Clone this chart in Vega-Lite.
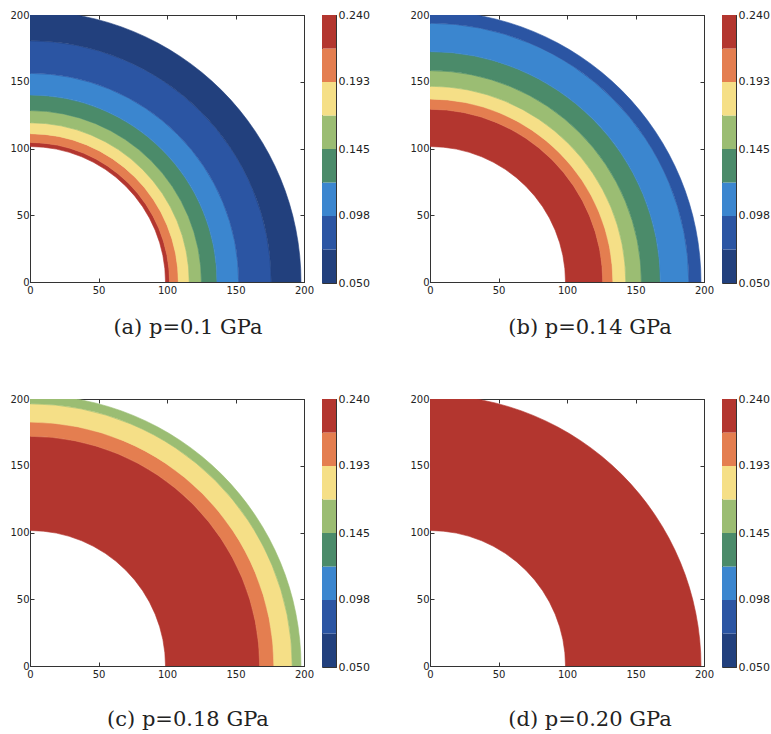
{
  "$schema": "https://vega.github.io/schema/vega-lite/v6.json",
  "background": "white",
  "padding": {"left": 9, "top": 8, "right": 0, "bottom": 0},
  "spacing": 53,
  "config": {
    "view": {"stroke": "#333333", "strokeWidth": 1},
    "axis": {
      "grid": false,
      "labelFont": "DejaVu Sans",
      "labelFontSize": 10,
      "labelColor": "#222222",
      "domainColor": "#333333",
      "tickColor": "#333333",
      "labelFlush": false,
      "labelOverlap": false,
      "title": null
    },
    "title": {"font": "DejaVu Serif", "fontSize": 21, "fontWeight": "normal", "color": "#222222"}
  },
  "datasets": {
    "bands": [
      {"panel": "a", "lo": 100, "hi": 103, "level": 7},
      {"panel": "a", "lo": 103, "hi": 109.5, "level": 6},
      {"panel": "a", "lo": 109.5, "hi": 117.5, "level": 5},
      {"panel": "a", "lo": 117.5, "hi": 126.5, "level": 4},
      {"panel": "a", "lo": 126.5, "hi": 138, "level": 3},
      {"panel": "a", "lo": 138, "hi": 154, "level": 2},
      {"panel": "a", "lo": 154, "hi": 178, "level": 1},
      {"panel": "a", "lo": 178, "hi": 200, "level": 0},
      {"panel": "b", "lo": 100, "hi": 127.5, "level": 7},
      {"panel": "b", "lo": 127.5, "hi": 135, "level": 6},
      {"panel": "b", "lo": 135, "hi": 144.5, "level": 5},
      {"panel": "b", "lo": 144.5, "hi": 156, "level": 4},
      {"panel": "b", "lo": 156, "hi": 170, "level": 3},
      {"panel": "b", "lo": 170, "hi": 191, "level": 2},
      {"panel": "b", "lo": 191, "hi": 200, "level": 1},
      {"panel": "c", "lo": 100, "hi": 169.5, "level": 7},
      {"panel": "c", "lo": 169.5, "hi": 180, "level": 6},
      {"panel": "c", "lo": 180, "hi": 193.5, "level": 5},
      {"panel": "c", "lo": 193.5, "hi": 200, "level": 4},
      {"panel": "d", "lo": 100, "hi": 200, "level": 7}
    ],
    "cbar": [
      {"level": 0, "lo": 0.05, "hi": 0.07375},
      {"level": 1, "lo": 0.07375, "hi": 0.0975},
      {"level": 2, "lo": 0.0975, "hi": 0.12125},
      {"level": 3, "lo": 0.12125, "hi": 0.145},
      {"level": 4, "lo": 0.145, "hi": 0.16875},
      {"level": 5, "lo": 0.16875, "hi": 0.1925},
      {"level": 6, "lo": 0.1925, "hi": 0.21625},
      {"level": 7, "lo": 0.21625, "hi": 0.24}
    ]
  },
  "vconcat": [
    {
      "spacing": 39,
      "hconcat": [
        {
          "spacing": 6,
          "hconcat": [
            {
              "width": 274, "height": 267,
              "title": {"text": "(a) p=0.1 GPa", "orient": "bottom", "anchor": "middle", "offset": 22, "dx": 21},
              "data": {"name": "bands"},
              "transform": [{"filter": "datum.panel == 'a'"}],
              "layer": [
                {
                  "mark": {"type": "arc", "theta": 0, "theta2": 1.5707963, "clip": true, "strokeWidth": 0.6},
                  "encoding": {
                    "x": {"datum": 0, "type": "quantitative", "scale": {"domain": [0, 200], "nice": false}, "axis": {"orient": "bottom", "values": [0, 50, 100, 150, 200], "tickSize": -4, "labelPadding": 7}},
                    "y": {"datum": 0, "type": "quantitative", "scale": {"domain": [0, 200], "nice": false}, "axis": {"orient": "left", "values": [0, 50, 100, 150, 200], "tickSize": -4, "labelPadding": 5}},
                    "radius": {"field": "lo", "type": "quantitative", "scale": {"type": "linear", "domain": [0, 200], "range": [0, 271], "zero": true, "nice": false}},
                    "radius2": {"field": "hi"},
                    "fill": {"field": "level", "type": "ordinal", "scale": {"domain": [0, 1, 2, 3, 4, 5, 6, 7], "range": ["#22407d", "#2b55a3", "#3b86cf", "#4b8b6a", "#9bbd73", "#f5df87", "#e47e50", "#b3362f"]}, "legend": null},
                    "stroke": {"field": "level", "type": "ordinal", "scale": {"domain": [0, 1, 2, 3, 4, 5, 6, 7], "range": ["#22407d", "#2b55a3", "#3b86cf", "#4b8b6a", "#9bbd73", "#f5df87", "#e47e50", "#b3362f"]}, "legend": null}
                  }
                },
                {
                  "mark": {"type": "point", "opacity": 0},
                  "encoding": {
                    "x": {"datum": 0, "type": "quantitative", "axis": {"orient": "top", "values": [0, 50, 100, 150, 200], "tickSize": -4, "labels": false}},
                    "y": {"datum": 0, "type": "quantitative", "axis": {"orient": "right", "values": [0, 50, 100, 150, 200], "tickSize": -4, "labels": false}}
                  }
                }
              ],
              "resolve": {"axis": {"x": "independent", "y": "independent"}}
            },
            {
              "width": 14, "height": 268,
              "data": {"name": "cbar"},
              "mark": {"type": "rect"},
              "encoding": {
                "y": {"field": "lo", "type": "quantitative", "scale": {"domain": [0.05, 0.24], "nice": false, "zero": false}, "axis": {"orient": "right", "values": [0.05, 0.098, 0.145, 0.193, 0.24], "format": ".3f", "tickSize": -3, "labelPadding": 5, "labelFontSize": 11}},
                "y2": {"field": "hi"},
                "fill": {"field": "level", "type": "ordinal", "scale": {"domain": [0, 1, 2, 3, 4, 5, 6, 7], "range": ["#22407d", "#2b55a3", "#3b86cf", "#4b8b6a", "#9bbd73", "#f5df87", "#e47e50", "#b3362f"]}, "legend": null}
              }
            }
          ]
        },
        {
          "spacing": 6,
          "hconcat": [
            {
              "width": 274, "height": 267,
              "title": {"text": "(b) p=0.14 GPa", "orient": "bottom", "anchor": "middle", "offset": 22, "dx": 23},
              "data": {"name": "bands"},
              "transform": [{"filter": "datum.panel == 'b'"}],
              "layer": [
                {
                  "mark": {"type": "arc", "theta": 0, "theta2": 1.5707963, "clip": true, "strokeWidth": 0.6},
                  "encoding": {
                    "x": {"datum": 0, "type": "quantitative", "scale": {"domain": [0, 200], "nice": false}, "axis": {"orient": "bottom", "values": [0, 50, 100, 150, 200], "tickSize": -4, "labelPadding": 7}},
                    "y": {"datum": 0, "type": "quantitative", "scale": {"domain": [0, 200], "nice": false}, "axis": {"orient": "left", "values": [0, 50, 100, 150, 200], "tickSize": -4, "labelPadding": 5}},
                    "radius": {"field": "lo", "type": "quantitative", "scale": {"type": "linear", "domain": [0, 200], "range": [0, 271], "zero": true, "nice": false}},
                    "radius2": {"field": "hi"},
                    "fill": {"field": "level", "type": "ordinal", "scale": {"domain": [0, 1, 2, 3, 4, 5, 6, 7], "range": ["#22407d", "#2b55a3", "#3b86cf", "#4b8b6a", "#9bbd73", "#f5df87", "#e47e50", "#b3362f"]}, "legend": null},
                    "stroke": {"field": "level", "type": "ordinal", "scale": {"domain": [0, 1, 2, 3, 4, 5, 6, 7], "range": ["#22407d", "#2b55a3", "#3b86cf", "#4b8b6a", "#9bbd73", "#f5df87", "#e47e50", "#b3362f"]}, "legend": null}
                  }
                },
                {
                  "mark": {"type": "point", "opacity": 0},
                  "encoding": {
                    "x": {"datum": 0, "type": "quantitative", "axis": {"orient": "top", "values": [0, 50, 100, 150, 200], "tickSize": -4, "labels": false}},
                    "y": {"datum": 0, "type": "quantitative", "axis": {"orient": "right", "values": [0, 50, 100, 150, 200], "tickSize": -4, "labels": false}}
                  }
                }
              ],
              "resolve": {"axis": {"x": "independent", "y": "independent"}}
            },
            {
              "width": 14, "height": 268,
              "data": {"name": "cbar"},
              "mark": {"type": "rect"},
              "encoding": {
                "y": {"field": "lo", "type": "quantitative", "scale": {"domain": [0.05, 0.24], "nice": false, "zero": false}, "axis": {"orient": "right", "values": [0.05, 0.098, 0.145, 0.193, 0.24], "format": ".3f", "tickSize": -3, "labelPadding": 5, "labelFontSize": 11}},
                "y2": {"field": "hi"},
                "fill": {"field": "level", "type": "ordinal", "scale": {"domain": [0, 1, 2, 3, 4, 5, 6, 7], "range": ["#22407d", "#2b55a3", "#3b86cf", "#4b8b6a", "#9bbd73", "#f5df87", "#e47e50", "#b3362f"]}, "legend": null}
              }
            }
          ]
        }
      ]
    },
    {
      "spacing": 39,
      "hconcat": [
        {
          "spacing": 6,
          "hconcat": [
            {
              "width": 274, "height": 267,
              "title": {"text": "(c) p=0.18 GPa", "orient": "bottom", "anchor": "middle", "offset": 30, "dx": 21},
              "data": {"name": "bands"},
              "transform": [{"filter": "datum.panel == 'c'"}],
              "layer": [
                {
                  "mark": {"type": "arc", "theta": 0, "theta2": 1.5707963, "clip": true, "strokeWidth": 0.6},
                  "encoding": {
                    "x": {"datum": 0, "type": "quantitative", "scale": {"domain": [0, 200], "nice": false}, "axis": {"orient": "bottom", "values": [0, 50, 100, 150, 200], "tickSize": -4, "labelPadding": 7}},
                    "y": {"datum": 0, "type": "quantitative", "scale": {"domain": [0, 200], "nice": false}, "axis": {"orient": "left", "values": [0, 50, 100, 150, 200], "tickSize": -4, "labelPadding": 5}},
                    "radius": {"field": "lo", "type": "quantitative", "scale": {"type": "linear", "domain": [0, 200], "range": [0, 271], "zero": true, "nice": false}},
                    "radius2": {"field": "hi"},
                    "fill": {"field": "level", "type": "ordinal", "scale": {"domain": [0, 1, 2, 3, 4, 5, 6, 7], "range": ["#22407d", "#2b55a3", "#3b86cf", "#4b8b6a", "#9bbd73", "#f5df87", "#e47e50", "#b3362f"]}, "legend": null},
                    "stroke": {"field": "level", "type": "ordinal", "scale": {"domain": [0, 1, 2, 3, 4, 5, 6, 7], "range": ["#22407d", "#2b55a3", "#3b86cf", "#4b8b6a", "#9bbd73", "#f5df87", "#e47e50", "#b3362f"]}, "legend": null}
                  }
                },
                {
                  "mark": {"type": "point", "opacity": 0},
                  "encoding": {
                    "x": {"datum": 0, "type": "quantitative", "axis": {"orient": "top", "values": [0, 50, 100, 150, 200], "tickSize": -4, "labels": false}},
                    "y": {"datum": 0, "type": "quantitative", "axis": {"orient": "right", "values": [0, 50, 100, 150, 200], "tickSize": -4, "labels": false}}
                  }
                }
              ],
              "resolve": {"axis": {"x": "independent", "y": "independent"}}
            },
            {
              "width": 14, "height": 268,
              "data": {"name": "cbar"},
              "mark": {"type": "rect"},
              "encoding": {
                "y": {"field": "lo", "type": "quantitative", "scale": {"domain": [0.05, 0.24], "nice": false, "zero": false}, "axis": {"orient": "right", "values": [0.05, 0.098, 0.145, 0.193, 0.24], "format": ".3f", "tickSize": -3, "labelPadding": 5, "labelFontSize": 11}},
                "y2": {"field": "hi"},
                "fill": {"field": "level", "type": "ordinal", "scale": {"domain": [0, 1, 2, 3, 4, 5, 6, 7], "range": ["#22407d", "#2b55a3", "#3b86cf", "#4b8b6a", "#9bbd73", "#f5df87", "#e47e50", "#b3362f"]}, "legend": null}
              }
            }
          ]
        },
        {
          "spacing": 6,
          "hconcat": [
            {
              "width": 274, "height": 267,
              "title": {"text": "(d) p=0.20 GPa", "orient": "bottom", "anchor": "middle", "offset": 30, "dx": 23},
              "data": {"name": "bands"},
              "transform": [{"filter": "datum.panel == 'd'"}],
              "layer": [
                {
                  "mark": {"type": "arc", "theta": 0, "theta2": 1.5707963, "clip": true, "strokeWidth": 0.6},
                  "encoding": {
                    "x": {"datum": 0, "type": "quantitative", "scale": {"domain": [0, 200], "nice": false}, "axis": {"orient": "bottom", "values": [0, 50, 100, 150, 200], "tickSize": -4, "labelPadding": 7}},
                    "y": {"datum": 0, "type": "quantitative", "scale": {"domain": [0, 200], "nice": false}, "axis": {"orient": "left", "values": [0, 50, 100, 150, 200], "tickSize": -4, "labelPadding": 5}},
                    "radius": {"field": "lo", "type": "quantitative", "scale": {"type": "linear", "domain": [0, 200], "range": [0, 271], "zero": true, "nice": false}},
                    "radius2": {"field": "hi"},
                    "fill": {"field": "level", "type": "ordinal", "scale": {"domain": [0, 1, 2, 3, 4, 5, 6, 7], "range": ["#22407d", "#2b55a3", "#3b86cf", "#4b8b6a", "#9bbd73", "#f5df87", "#e47e50", "#b3362f"]}, "legend": null},
                    "stroke": {"field": "level", "type": "ordinal", "scale": {"domain": [0, 1, 2, 3, 4, 5, 6, 7], "range": ["#22407d", "#2b55a3", "#3b86cf", "#4b8b6a", "#9bbd73", "#f5df87", "#e47e50", "#b3362f"]}, "legend": null}
                  }
                },
                {
                  "mark": {"type": "point", "opacity": 0},
                  "encoding": {
                    "x": {"datum": 0, "type": "quantitative", "axis": {"orient": "top", "values": [0, 50, 100, 150, 200], "tickSize": -4, "labels": false}},
                    "y": {"datum": 0, "type": "quantitative", "axis": {"orient": "right", "values": [0, 50, 100, 150, 200], "tickSize": -4, "labels": false}}
                  }
                }
              ],
              "resolve": {"axis": {"x": "independent", "y": "independent"}}
            },
            {
              "width": 14, "height": 268,
              "data": {"name": "cbar"},
              "mark": {"type": "rect"},
              "encoding": {
                "y": {"field": "lo", "type": "quantitative", "scale": {"domain": [0.05, 0.24], "nice": false, "zero": false}, "axis": {"orient": "right", "values": [0.05, 0.098, 0.145, 0.193, 0.24], "format": ".3f", "tickSize": -3, "labelPadding": 5, "labelFontSize": 11}},
                "y2": {"field": "hi"},
                "fill": {"field": "level", "type": "ordinal", "scale": {"domain": [0, 1, 2, 3, 4, 5, 6, 7], "range": ["#22407d", "#2b55a3", "#3b86cf", "#4b8b6a", "#9bbd73", "#f5df87", "#e47e50", "#b3362f"]}, "legend": null}
              }
            }
          ]
        }
      ]
    }
  ]
}
